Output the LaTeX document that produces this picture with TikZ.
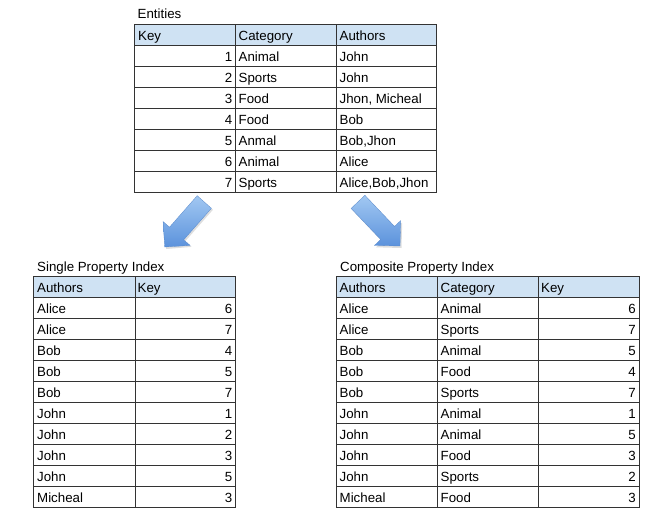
\documentclass[tikz,border=0pt]{standalone}
\usepackage{fontspec}
\setmainfont{Liberation Sans}
\definecolor{hdr}{HTML}{CFE2F3}
\definecolor{gridc}{HTML}{333333}
\definecolor{arrlight}{HTML}{A2C8F2}
\definecolor{arrdark}{HTML}{5B92DC}
\definecolor{arredge}{HTML}{5A8ACB}
\begin{document}
\begin{tikzpicture}[x=1pt,y=-1pt,font=\fontsize{13.3}{15}\selectfont,
  gridline/.style={draw=gridc,line width=0.9pt},
  cell/.style={inner sep=0pt,anchor=base west},
  num/.style={inner sep=0pt,anchor=base east},
  title/.style={inner sep=0pt,anchor=base west},
  blockarrow/.style={top color=arrlight,bottom color=arrdark,draw=arredge,line width=0.3pt},
  arrowshadow/.style={fill=black,opacity=0.13}]
\useasboundingbox (0,0) rectangle (656,520);

% ---------- Entities ----------
\node[title] (tent) at (137.5,18.5) {Entities};
\fill[hdr] (134.5,24.5) rectangle (436.5,45);
\foreach \k in {1,...,7} \draw[gridline] (134.5,{45+21*\k}) -- (436.5,{45+21*\k});
\draw[gridline] (134.5,45) -- (436.5,45);
\draw[gridline] (235.5,24.5) -- (235.5,192);
\draw[gridline] (336.5,24.5) -- (336.5,192);
\draw[gridline] (134.5,24.5) rectangle (436.5,192);
\node[cell] (eh1) at (138,40.5) {Key};
\node[cell] (eh2) at (238.5,40.5) {Category};
\node[cell] (eh3) at (339.5,40.5) {Authors};
\foreach \i/\b/\c in {1/Animal/John,2/Sports/John,3/Food/{Jhon, Micheal},4/Food/Bob,
  5/Anmal/{Bob,Jhon},6/Animal/Alice,7/Sports/{Alice,Bob,Jhon}}{
  \node[num] (ea\i) at (232.5,{45+21*\i-4.5}) {\i};
  \node[cell] (eb\i) at (238.5,{45+21*\i-4.5}) {\b};
  \node[cell] (ec\i) at (339.5,{45+21*\i-4.5}) {\c};
}

% ---------- Arrows ----------
\fill[arrowshadow] (166.2,249) -- (164.6,223.1) -- (171,228.7) -- (198.7,197.2)
  -- (212.9,209.8) -- (185.2,241.3) -- (191.6,246.9) -- cycle;
\path[blockarrow] (164.7,247) -- (163.1,221.6) -- (169.5,227.2) -- (197.2,195.7)
  -- (211.4,208.3) -- (183.7,239.8) -- (190.1,245.4) -- cycle;
\fill[arrowshadow] (401.5,248) -- (402.2,222.5) -- (396,228.4) -- (366.4,197.2)
  -- (352.6,210.3) -- (382.2,241.5) -- (376,247.3) -- cycle;
\path[blockarrow] (400,246) -- (400.7,220.6) -- (394.5,226.4) -- (364.9,195.3)
  -- (351.1,208.4) -- (380.7,239.5) -- (374.5,245.4) -- cycle;

% ---------- Single Property Index ----------
\node[title] (tsingle) at (37,271.5) {Single Property Index};
\fill[hdr] (33.5,276.5) rectangle (235.5,297);
\foreach \k in {1,...,10} \draw[gridline] (33.5,{297+21*\k}) -- (235.5,{297+21*\k});
\draw[gridline] (33.5,297) -- (235.5,297);
\draw[gridline] (135,276.5) -- (135,507);
\draw[gridline] (33.5,276.5) rectangle (235.5,507);
\node[cell] (sh1) at (37,292.5) {Authors};
\node[cell] (sh2) at (137.5,292.5) {Key};
\foreach \i/\a/\b in {1/Alice/6,2/Alice/7,3/Bob/4,4/Bob/5,5/Bob/7,6/John/1,
  7/John/2,8/John/3,9/John/5,10/Micheal/3}{
  \node[cell] (sa\i) at (37,{297+21*\i-4.5}) {\a};
  \node[num] (sb\i) at (232.5,{297+21*\i-4.5}) {\b};
}

% ---------- Composite Property Index ----------
\node[title] (tcomp) at (340,271.5) {Composite Property Index};
\fill[hdr] (336,276.5) rectangle (639,297);
\foreach \k in {1,...,10} \draw[gridline] (336,{297+21*\k}) -- (639,{297+21*\k});
\draw[gridline] (336,297) -- (639,297);
\draw[gridline] (437.5,276.5) -- (437.5,507);
\draw[gridline] (538,276.5) -- (538,507);
\draw[gridline] (336,276.5) rectangle (639,507);
\node[cell] (ch1) at (339.5,292.5) {Authors};
\node[cell] (ch2) at (440.5,292.5) {Category};
\node[cell] (ch3) at (541,292.5) {Key};
\foreach \i/\a/\b/\c in {1/Alice/Animal/6,2/Alice/Sports/7,3/Bob/Animal/5,4/Bob/Food/4,
  5/Bob/Sports/7,6/John/Animal/1,7/John/Animal/5,8/John/Food/3,9/John/Sports/2,10/Micheal/Food/3}{
  \node[cell] (ca\i) at (339.5,{297+21*\i-4.5}) {\a};
  \node[cell] (cb\i) at (440.5,{297+21*\i-4.5}) {\b};
  \node[num] (cc\i) at (636,{297+21*\i-4.5}) {\c};
}
\end{tikzpicture}
\end{document}
